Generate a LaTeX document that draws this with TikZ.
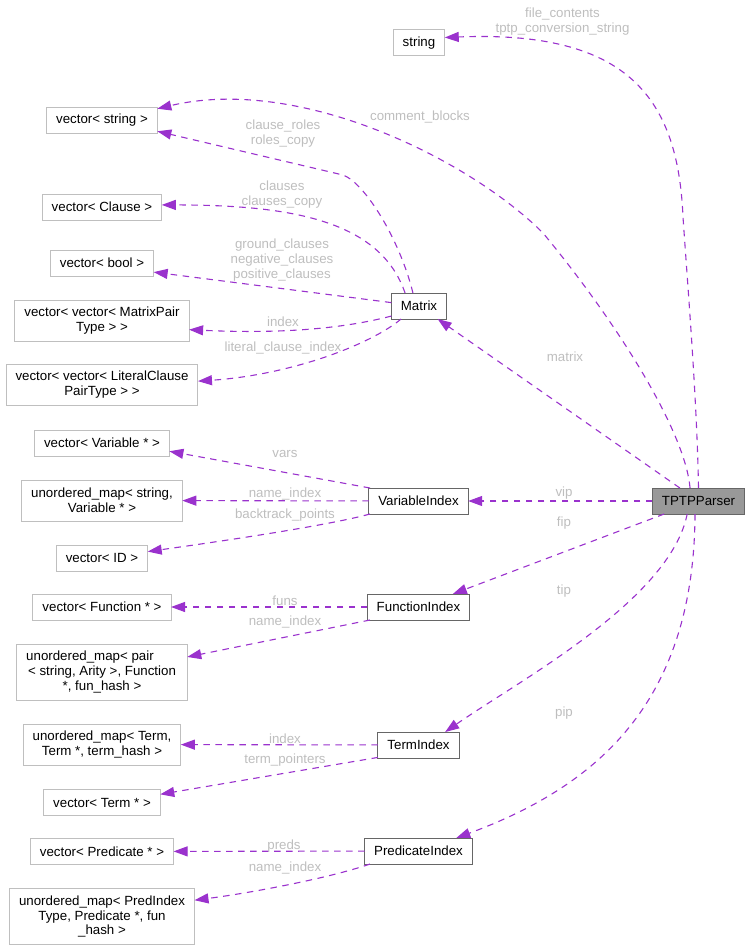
\documentclass[tikz,border=0pt]{standalone}
\usepackage{fontspec}
\setmainfont{Liberation Sans}
\usepackage{tikz}
\usetikzlibrary{positioning, arrows.meta}

\definecolor{edgepurple}{HTML}{9A32CD}
\definecolor{labelgrey}{HTML}{BEBEBE}
\definecolor{memberline}{HTML}{BFBFBF}
\definecolor{ownerline}{HTML}{666666}
\definecolor{rootgrey}{HTML}{999999}

\begin{document}
\begin{tikzpicture}[x=1pt, y=-1pt, node distance=24pt,
    >={Triangle[length=14pt, width=10pt]},
    every node/.style={font=\fontsize{13.3}{14.7}\selectfont, align=center},
    member/.style={draw=memberline, line width=1pt, inner xsep=9.5pt, inner ysep=4pt, outer sep=0pt, minimum height=26pt},
    owner/.style={member, draw=ownerline},
    two/.style={minimum height=41pt},
    three/.style={minimum height=56pt},
    link/.style={draw=edgepurple, line width=1.1pt, dash pattern=on 6.5pt off 5.5pt},
    lbl/.style={text=labelgrey, inner sep=0pt}]

        \useasboundingbox (0,0) rectangle (751,950);

        % Classes in the middle
        \node[member] (strg) at (419,43) {string};
        \node[owner] (matrix) at (419,306) {Matrix};
        \node[owner] (varidx) at (418.5,501) {VariableIndex};
        \node[owner] (funidx) at (418.5,607) {FunctionIndex};
        \node[owner] (termidx) at (418.5,745) {TermIndex};
        \node[owner] (predidx) at (418.5,851) {PredicateIndex};
        \node[owner, fill=rootgrey] (tptp) at (698.5,501) {TPTPParser};

        % Member types on the left
        \node[member] (vstring) at (102,120.5) {vector< string >};
        \node[member] (vclause) [below=60.5pt of vstring] {vector< Clause >};
        \node[member] (vbool) [below=30pt of vclause] {vector< bool >};
        \node[member, two] (mpair) [below=of vbool] {vector< vector< MatrixPair\\Type > >};
        \node[member, two] (lclause) [below=23pt of mpair] {vector< vector< LiteralClause\\PairType > >};
        \node[member] (vvar) [below=25pt of lclause] {vector< Variable * >};
        \node[member, two] (umapvar) [below=of vvar] {unordered\_map< string,\\Variable * >};
        \node[member] (vid) [below=of umapvar] {vector< ID >};
        \node[member] (vfun) [below=23pt of vid] {vector< Function * >};
        \node[member, three] (umappair) [below=of vfun] {unordered\_map< pair\hspace*{24pt}\\< string, Arity >, Function\\*, fun\_hash >};
        \node[member, two] (umapterm) [below=of umappair] {unordered\_map< Term,\\Term *, term\_hash >};
        \node[member] (vterm) [below=24.5pt of umapterm] {vector< Term * >};
        \node[member] (vpred) [below=23pt of vterm] {vector< Predicate * >};
        \node[member, three] (umappred) [below=of vpred] {unordered\_map< PredIndex\\Type, Predicate *, fun\hspace*{33pt}\\\_hash >};

        % Arrows from TPTPParser
        \draw[->, link] (tptp.north) .. controls (697,400) and (688,290) .. (683,217) .. controls (678,100) and (630,30) .. (strg.12);
        \draw[->, link] (tptp.123) .. controls (685,430) and (615,320) .. (543,233) .. controls (470,160) and (300,75) .. (vstring.12);
        \draw[->, link] (tptp) -- (matrix);
        \draw[->, link] (tptp) -- (varidx);
        \draw[->, link] (tptp) -- (funidx);
        \draw[->, link] (tptp.-131) .. controls (670,600) and (520,680) .. (termidx.26);
        \draw[->, link] (tptp.-105) .. controls (694,700) and (600,785) .. (predidx.19);

        % Arrows from Matrix
        \draw[->, link] (matrix.115) .. controls (400,240) and (365,183) .. (343,175) -- (vstring.-11);
        \draw[->, link] (matrix.137) .. controls (380,220) and (290,205) .. (vclause.2);
        \draw[->, link] (matrix.173) -- (vbool.-10);
        \draw[->, link] (matrix.-160) .. controls (330,332) and (260,333) .. (mpair.-6);
        \draw[->, link] (matrix.-144) .. controls (370,345) and (290,375) .. (lclause.2);

        % Arrows from the index classes
        \draw[->, link] (varidx.165) -- (vvar.-7);
        \draw[->, link] (varidx) -- (umapvar);
        \draw[->, link] (varidx.-165) .. controls (330,525) and (230,540) .. (vid.8);
        \draw[->, link] (funidx) -- (vfun);
        \draw[->, link] (funidx.-165) -- (umappair.10);
        \draw[->, link] (termidx) -- (umapterm);
        \draw[->, link] (termidx.-163) -- (vterm.8);
        \draw[->, link] (predidx) -- (vpred);
        \draw[->, link] (predidx.-165) .. controls (330,878) and (250,893) .. (umappred.10);

        % Edge labels
        \node[lbl] (l-files) at (562.5,21.5) {file\_contents\\tptp\_conversion\_string};
        \node[lbl] (l-comments) at (420,117) {comment\_blocks};
        \node[lbl] (l-matrix) at (565,357) {matrix};
        \node[lbl] (l-vip) at (564,493) {vip};
        \node[lbl] (l-fip) at (564,523) {fip};
        \node[lbl] (l-tip) at (564,591) {tip};
        \node[lbl] (l-pip) at (564,713) {pip};
        \node[lbl] (l-roles) at (283,133.5) {clause\_roles\\roles\_copy};
        \node[lbl] (l-clauses) at (282,194.5) {clauses\\clauses\_copy};
        \node[lbl] (l-bools) at (282,260) {ground\_clauses\\negative\_clauses\\positive\_clauses};
        \node[lbl] (l-index) at (283,322) {index};
        \node[lbl] (l-literal) at (283,348) {literal\_clause\_index};
        \node[lbl] (l-vars) at (285,454) {vars};
        \node[lbl] (l-vname) at (285,494) {name\_index};
        \node[lbl] (l-back) at (285,515) {backtrack\_points};
        \node[lbl] (l-funs) at (285,601) {funs};
        \node[lbl] (l-fname) at (285,622) {name\_index};
        \node[lbl] (l-tindex) at (285,739) {index};
        \node[lbl] (l-tptr) at (285,760) {term\_pointers};
        \node[lbl] (l-preds) at (284,846) {preds};
        \node[lbl] (l-pname) at (285,868) {name\_index};

\end{tikzpicture}
\end{document}
